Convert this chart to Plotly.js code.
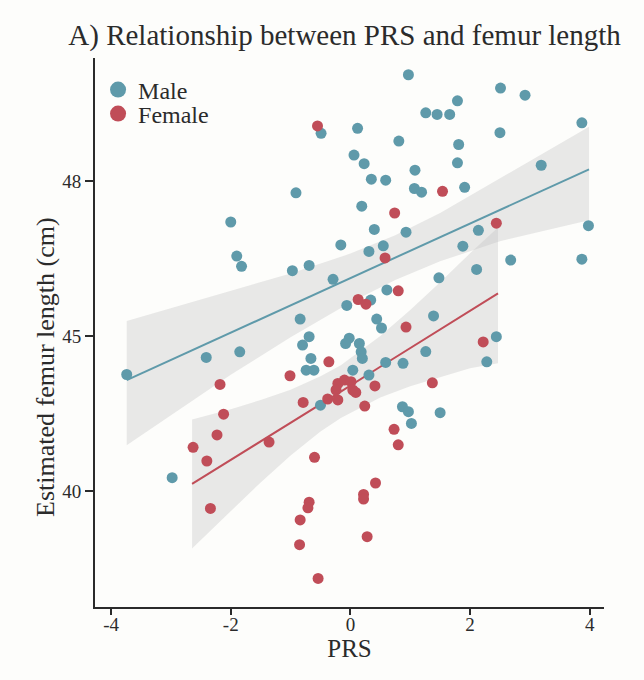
<!DOCTYPE html>
<html>
<head>
<meta charset="utf-8">
<script src="https://cdn.plot.ly/plotly-3.0.1.min.js"></script>
<style>
  html, body { margin: 0; padding: 0; background: #fdfdfb; }
  #chart { width: 644px; height: 680px; }
</style>
</head>
<body>
<div id="chart"></div>
<script>
// Scatter points
const maleX = [-0.49, 0.12, 0.06, -0.91, -2.00, -1.90, -1.82, -0.97, -0.69, -0.16, -0.29, -0.06, -0.84,
  0.97, 2.51, 2.92, 1.79, 1.26, 1.45, 1.66, 2.50, 3.87, 0.81, 1.81, 0.23, 1.79, 3.19, 1.08, 0.35, 0.59,
  1.07, 1.19, 1.91, 0.19, 0.40, 0.93, 2.14, 3.98, 0.55, 0.31, 1.88, 2.68, 3.87, 2.11, 1.48, 0.61, 0.34,
  1.39, 0.44, 0.52, -0.69, -0.80, -0.66, -0.74, -0.61, -0.02, 0.15, -0.08, 0.18, 0.20, 0.04, 0.59, 0.88,
  1.26, 0.31, -0.50, 0.87, 0.97, 1.02, 2.44, 2.28, 1.50, -3.74, -2.41, -1.85, -2.98];
const maleY = [51.54, 51.70, 50.84, 49.62, 48.68, 47.58, 47.25, 47.11, 47.28, 47.94, 46.83, 45.99, 45.55,
  53.43, 53.00, 52.77, 52.59, 52.20, 52.15, 52.15, 51.56, 51.88, 51.29, 51.18, 50.56, 50.59, 50.51, 50.35,
  50.06, 50.03, 49.76, 49.64, 49.80, 49.19, 48.44, 48.35, 48.41, 48.56, 47.91, 47.73, 47.90, 47.45, 47.48,
  47.15, 46.88, 46.49, 46.16, 45.65, 45.55, 45.26, 44.98, 44.71, 44.28, 43.90, 43.90, 44.93, 44.76, 44.76,
  44.49, 44.28, 43.90, 44.15, 44.12, 44.50, 43.74, 42.77, 42.72, 42.56, 42.18, 44.98, 44.17, 42.53, 43.76,
  44.31, 44.49, 40.43];

const femaleX = [-0.55, 1.54, 0.74, 2.44, 0.58, 0.80, 0.13, 0.26, 0.93, 2.22, -0.36, -1.01, -0.21, -0.10,
  0.01, -0.24, 0.04, 0.09, 0.41, -0.38, -0.21, -0.79, 0.24, 0.73, 1.37, -2.18, -2.12, -2.23, -2.63, -2.40,
  -2.34, -1.36, 0.80, -0.60, 0.42, 0.22, 0.22, -0.69, -0.71, -0.84, -0.85, 0.28, -0.54];
const femaleY = [51.78, 49.67, 48.97, 48.64, 47.52, 46.46, 46.18, 46.03, 45.29, 44.81, 44.17, 43.72, 43.47,
  43.58, 43.53, 43.26, 43.26, 43.18, 43.39, 42.97, 42.94, 42.86, 42.74, 41.99, 43.49, 43.44, 42.48, 41.81,
  41.41, 40.97, 39.44, 41.58, 41.49, 41.09, 40.26, 39.89, 39.74, 39.64, 39.46, 39.07, 38.27, 38.53, 37.18];

// Fitted lines and confidence ribbons
const maleFitX = [-3.74, -2.0, -1.0, 0.0, 0.75, 1.5, 2.5, 3.99];
const maleFit = [43.58, 45.11, 45.99, 46.87, 47.53, 48.19, 49.07, 50.38];
const maleLower = [41.48, 43.75, 44.96, 46.08, 46.81, 47.41, 48.06, 48.74];
const maleUpper = [45.49, 46.47, 47.02, 47.66, 48.25, 48.97, 50.08, 51.75];

const femaleFitX = [-2.647, -2.0, -1.5, -1.0, -0.5, -0.16, 0.5, 1.0, 1.5, 2.0, 2.468];
const femaleFit = [40.23, 41.00, 41.61, 42.21, 42.81, 43.21, 44.01, 44.61, 45.21, 45.81, 46.38];
const femaleLower = [38.15, 39.36, 40.28, 41.15, 41.92, 42.36, 43.02, 43.38, 43.68, 43.96, 44.12];
const femaleUpper = [42.31, 42.64, 42.94, 43.27, 43.70, 44.06, 45.00, 45.84, 46.74, 47.67, 48.50];

const xTicks = [-4, -2, 0, 2, 4];
const xTickText = ['-4', '-2', '0', '2', '4'];
const yTicks = [40, 45, 50];
const yTickText = ['40', '45', '48'];

const maleColor = '#5f9aaa';
const femaleColor = '#c04d58';
const ribbonColor = 'rgba(190,190,190,0.32)';
const ink = '#2b2b2b';
const serif = 'Liberation Serif, Times New Roman, serif';

const traces = [
    { x: maleFitX, y: maleLower, mode: 'lines', line: { width: 0 }, hoverinfo: 'skip', showlegend: false },
    { x: maleFitX, y: maleUpper, mode: 'lines', line: { width: 0 }, fill: 'tonexty', fillcolor: ribbonColor, hoverinfo: 'skip', showlegend: false },
    { x: femaleFitX, y: femaleLower, mode: 'lines', line: { width: 0 }, hoverinfo: 'skip', showlegend: false },
    { x: femaleFitX, y: femaleUpper, mode: 'lines', line: { width: 0 }, fill: 'tonexty', fillcolor: ribbonColor, hoverinfo: 'skip', showlegend: false },
    { x: maleFitX, y: maleFit, mode: 'lines', line: { color: maleColor, width: 2 }, showlegend: false },
    { x: femaleFitX, y: femaleFit, mode: 'lines', line: { color: femaleColor, width: 2 }, showlegend: false },
    { x: maleX, y: maleY, mode: 'markers', marker: { color: maleColor, size: 11 }, showlegend: false },
    { x: femaleX, y: femaleY, mode: 'markers', marker: { color: femaleColor, size: 11 }, showlegend: false },
    // legend-only entries with bigger keys
    { x: [null], y: [null], mode: 'markers', name: 'Male', marker: { color: maleColor, size: 16 }, legend: 'legend' },
    { x: [null], y: [null], mode: 'markers', name: 'Female', marker: { color: femaleColor, size: 16 }, legend: 'legend2' }
];

const legendBase = {
    xref: 'paper', yref: 'paper', x: 0.006, xanchor: 'left', yanchor: 'middle',
    bgcolor: 'rgba(0,0,0,0)', font: { family: serif, size: 24, color: ink }
};

const layout = {
    width: 644, height: 680,
    paper_bgcolor: '#fdfdfb',
    plot_bgcolor: '#fdfdfb',
    margin: { l: 95, r: 40, t: 58, b: 73 },
    font: { family: serif, color: ink },
    title: {
        text: 'A) Relationship between PRS and femur length',
        font: { family: serif, size: 29, color: ink },
        xref: 'container', x: 0.535, xanchor: 'center',
        yref: 'container', y: 1 - 35 / 680, yanchor: 'middle'
    },
    xaxis: {
        range: [-4.27, 4.24],
        tickvals: xTicks, ticktext: xTickText,
        showgrid: false, zeroline: false,
        showline: true, linecolor: ink, linewidth: 2,
        ticks: 'outside', ticklen: 6, tickwidth: 2, tickcolor: ink,
        ticklabelstandoff: -7,
        tickfont: { family: serif, size: 19, color: ink },
        title: { text: 'PRS', font: { family: serif, size: 25, color: ink }, standoff: 0 }
    },
    yaxis: {
        range: [36.26, 53.97],
        tickvals: yTicks, ticktext: yTickText,
        showgrid: false, zeroline: false,
        showline: true, linecolor: ink, linewidth: 2,
        ticks: 'outside', ticklen: 8, tickwidth: 2, tickcolor: ink,
        tickfont: { family: serif, size: 19, color: ink }
    },
    legend: { ...legendBase, y: 1 - 32 / 549 },
    legend2: { ...legendBase, y: 1 - 56 / 549 },
    annotations: [{
        text: 'Estimated femur length (cm)',
        xref: 'paper', yref: 'paper',
        x: -50 / 509, y: 1 - (367 - 58) / 549,
        xanchor: 'center', yanchor: 'middle',
        textangle: -90, showarrow: false,
        font: { family: serif, size: 26, color: ink }
    }]
};

Plotly.newPlot('chart', traces, layout, { displayModeBar: false, responsive: false });
</script>
</body>
</html>
